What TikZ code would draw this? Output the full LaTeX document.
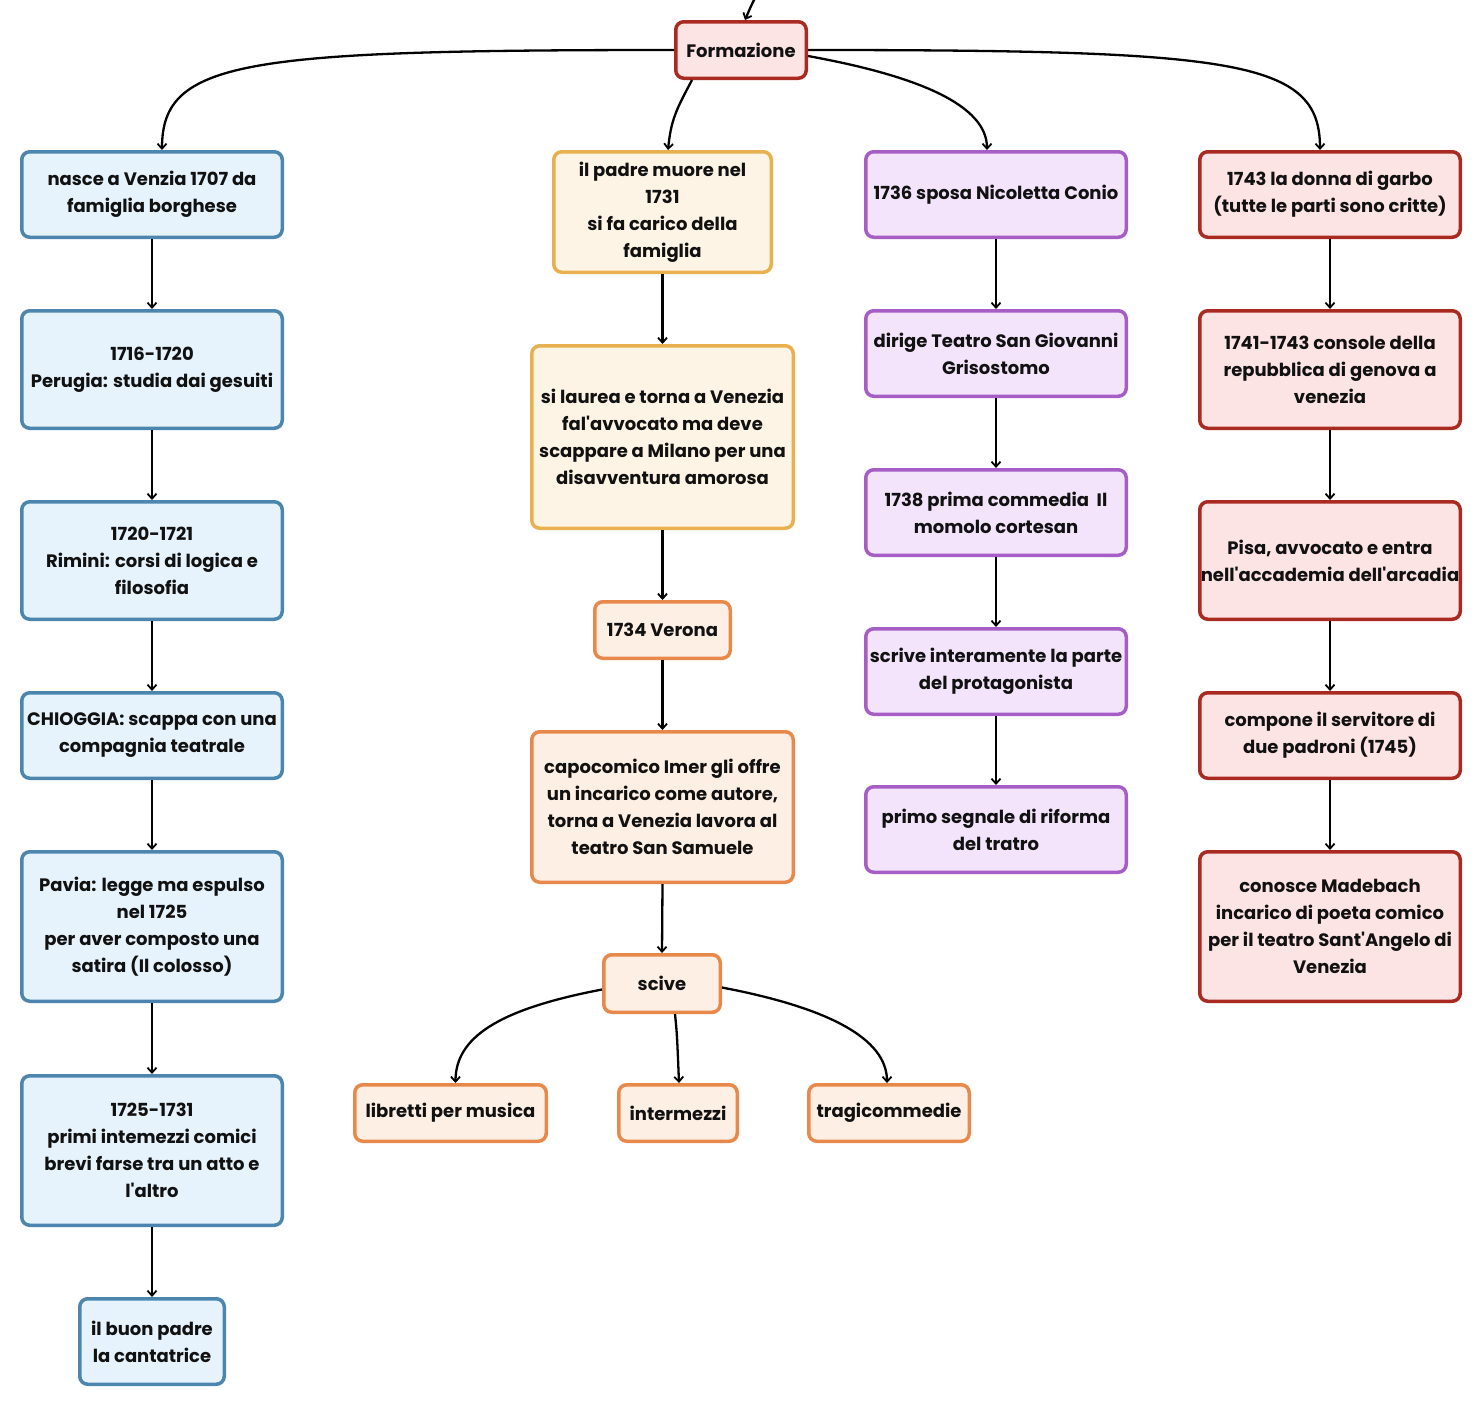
\documentclass[tikz,border=0pt]{standalone}
\usepackage{fontspec}
\setmainfont{Poppins}[Ligatures=TeXOff]
\usetikzlibrary{arrows.meta}
\definecolor{bluebd}{HTML}{4C86AE}\definecolor{bluefl}{HTML}{E6F3FC}
\definecolor{yelbd}{HTML}{E9B04F}\definecolor{yelfl}{HTML}{FEF4E5}
\definecolor{orabd}{HTML}{E6894A}\definecolor{orafl}{HTML}{FDEFE4}
\definecolor{purbd}{HTML}{A65DC5}\definecolor{purfl}{HTML}{F3E4FB}
\definecolor{redbd}{HTML}{A82A20}\definecolor{redfl}{HTML}{FDE4E4}
\definecolor{ink}{HTML}{111111}
\tikzset{
  box/.style={rectangle, rounded corners=8pt, line width=3.5pt, align=center,
    inner sep=1pt, text=ink, font=\fontsize{18}{27}\selectfont\bfseries},
  bluebox/.style={box, draw=bluebd, fill=bluefl},
  yelbox/.style={box, draw=yelbd, fill=yelfl},
  orabox/.style={box, draw=orabd, fill=orafl},
  purbox/.style={box, draw=purbd, fill=purfl},
  redbox/.style={box, draw=redbd, fill=redfl},
  sz/.style 2 args={minimum width=#1pt-3.5pt, minimum height=#2pt-3.5pt},
  conn/.style={line width=2.3pt, draw=black, -{Straight Barb[length=5pt,width=9pt,line width=1.8pt]}},
}
\begin{document}
\begin{tikzpicture}[x=1pt,y=1pt]
\useasboundingbox[fill=white] (0,0) rectangle (1483,-1406);
% top
\node[redbox, sz={134}{60}] (F) at (741,-50) {Formazione};
\coordinate (top) at (755,2);
% blue column
\node[bluebox, sz={264}{89}] (B1) at (152,-194.5) {nasce a Venzia 1707 da\\famiglia borghese};
\node[bluebox, sz={264}{121}] (B2) at (152,-369.5) {1716-1720\\Perugia: studia dai gesuiti};
\node[bluebox, sz={264}{121}] (B3) at (152,-560.5) {1720-1721\\Rimini: corsi di logica e\\filosofia};
\node[bluebox, sz={264}{89}] (B4) at (152,-735.5) {CHIOGGIA: scappa con una\\compagnia teatrale};
\node[bluebox, sz={264}{153}] (B5) at (152,-926.5) {Pavia: legge ma espulso\\nel 1725\\per aver composto una\\satira (Il colosso)};
\node[bluebox, sz={264}{153}] (B6) at (152,-1150.5) {1725-1731\\primi intemezzi comici\\brevi farse tra un atto e\\l'altro};
\node[bluebox, sz={148}{89}] (B7) at (152,-1341.5) {il buon padre\\la cantatrice};
% yellow / orange column
\node[yelbox, sz={221}{124}] (Y1) at (662.5,-212) {il padre muore nel\\1731\\si fa carico della\\famiglia};
\node[yelbox, sz={265}{186}] (Y2) at (662.5,-437) {si laurea e torna a Venezia\\fal'avvocato ma deve\\scappare a Milano per una\\disavventura amorosa};
\node[orabox, sz={139}{60}] (O1) at (662.5,-630) {1734 Verona};
\node[orabox, sz={265}{154}] (O2) at (662.5,-807) {capocomico Imer gli offre\\un incarico come autore,\\torna a Venezia lavora al\\teatro San Samuele};
\node[orabox, sz={120}{61}] (O3) at (662,-983.5) {scive};
\node[orabox, sz={195}{60}] (O4) at (450.5,-1113) {libretti per musica};
\node[orabox, sz={122}{60}] (O5) at (678,-1113) {intermezzi};
\node[orabox, sz={164}{60}] (O6) at (889,-1113) {tragicommedie};
% purple column
\node[purbox, sz={264}{89}] (P1) at (996,-194.5) {1736 sposa Nicoletta Conio};
\node[purbox, sz={264}{89}] (P2) at (996,-353.5) {dirige Teatro San Giovanni\\Grisostomo};
\node[purbox, sz={264}{89}] (P3) at (996,-512.5) {1738 prima commedia~ Il\\momolo cortesan};
\node[purbox, sz={264}{89}] (P4) at (996,-671.5) {scrive interamente la parte\\del protagonista};
\node[purbox, sz={264}{89}] (P5) at (996,-829.5) {primo segnale di riforma\\del tratro};
% red column
\node[redbox, sz={264}{89}] (R1) at (1330,-194.5) {1743 la donna di garbo\\(tutte le parti sono critte)};
\node[redbox, sz={264}{121}] (R2) at (1330,-369.5) {1741-1743 console della\\repubblica di genova a\\venezia};
\node[redbox, sz={264}{121}] (R3) at (1330,-560.5) {Pisa, avvocato e entra\\nell'accademia dell'arcadia};
\node[redbox, sz={264}{89}] (R4) at (1330,-735.5) {compone il servitore di\\due padroni (1745)};
\node[redbox, sz={264}{153}] (R5) at (1330,-926.5) {conosce Madebach\\incarico di poeta comico\\per il teatro Sant'Angelo di\\Venezia};
% connectors
\draw[conn] (top) .. controls +(-4,-8) .. ([xshift=4]F.north);
\draw[conn] (F.west) .. controls +(-430,0) and +(0,90) .. ([xshift=10]B1.north);
\draw[conn] (F.east) .. controls +(430,0) and +(0,90) .. ([xshift=-10]R1.north);
\draw[conn] ([xshift=-49]F.south) .. controls +(-16,-30) and +(3,30) .. ([xshift=5.5]Y1.north);
\draw[conn] ([yshift=-6]F.east) .. controls +(110,-20) and +(0,45) .. ([xshift=-9]P1.north);
\foreach \a/\b in {B1/B2,B2/B3,B3/B4,B4/B5,B5/B6,B6/B7,Y1/Y2,Y2/O1,O1/O2,O2/O3,P1/P2,P2/P3,P3/P4,P4/P5,R1/R2,R2/R3,R3/R4,R4/R5}
  \draw[conn] (\a.south) -- (\b.north);
\draw[conn] ([yshift=-6]O3.west) .. controls +(-105,-20) and +(0,45) .. ([xshift=5]O4.north);
\draw[conn] ([xshift=13]O3.south) .. controls +(2,-20) .. ([xshift=1]O5.north);
\draw[conn] ([yshift=-4]O3.east) .. controls +(105,-20) and +(0,45) .. ([xshift=-2]O6.north);
\end{tikzpicture}
\end{document}
